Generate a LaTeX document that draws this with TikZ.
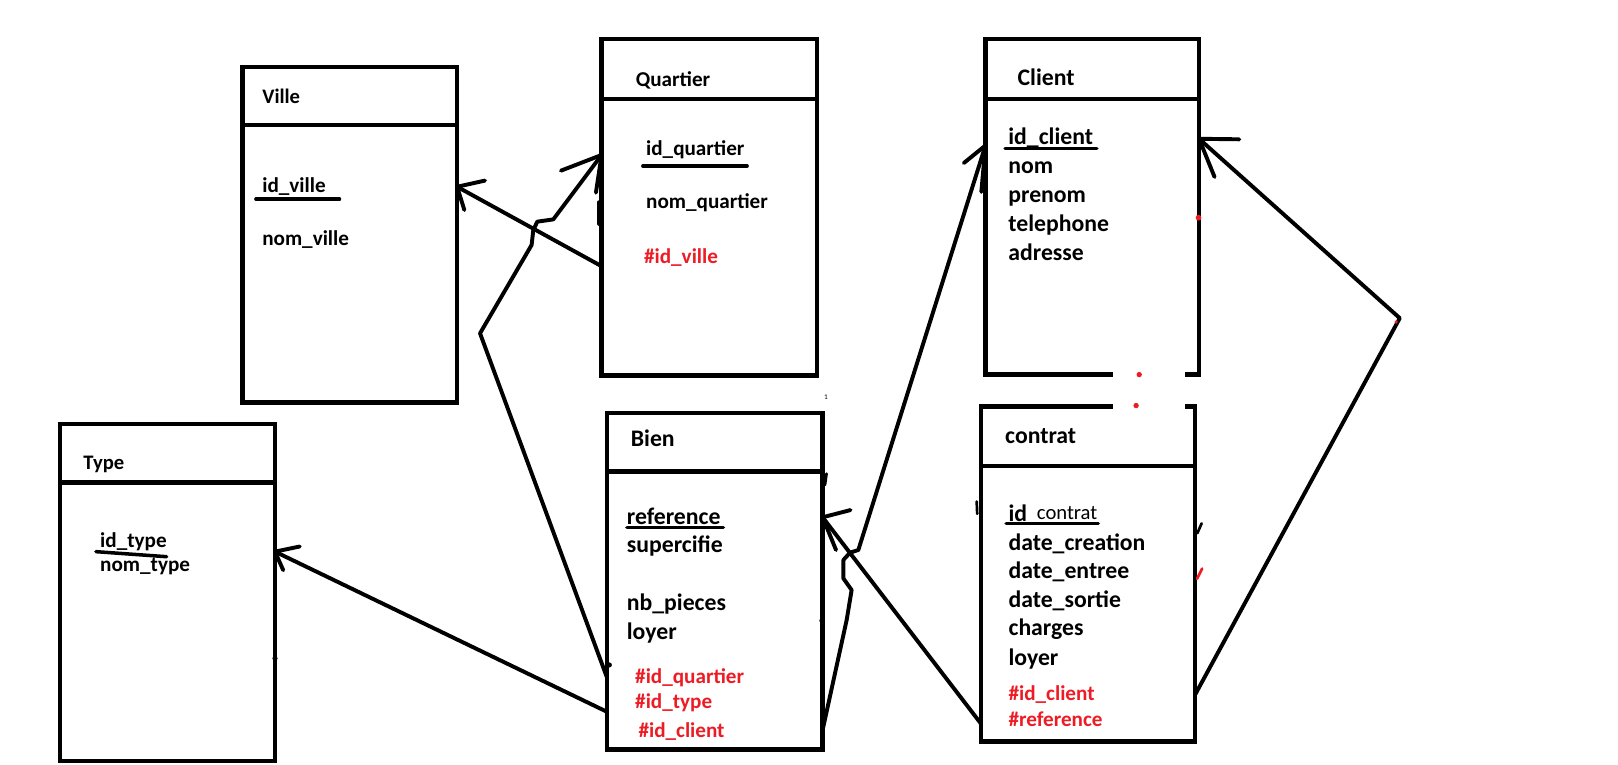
\documentclass[tikz,border=0pt]{standalone}
\usepackage{fontspec}
\setmainfont{Carlito}
\definecolor{pkred}{RGB}{237,28,36}
\begin{document}
\begin{tikzpicture}[x=1pt,y=-1pt,
  tbl/.style={draw, line width=4.2pt, inner sep=0pt, outer sep=0pt},
  sep/.style={line width=4.2pt},
  conn/.style={line width=3.8pt, line cap=round, line join=round},
  ul/.style={line width=3.4pt, line cap=round},
  txt/.style={anchor=base west, inner sep=0pt, font=\bfseries\fontsize{20.5}{20.5}\selectfont},
  big/.style={font=\bfseries\fontsize{23}{23}\selectfont},
  head/.style={font=\bfseries\fontsize{20}{20}\selectfont},
  fk/.style={text=pkred},
  speck/.style={fill, inner sep=0pt, minimum size=5pt, circle},
]
\useasboundingbox (0,0) rectangle (1568,741);

% ---------- tables ----------
\node[tbl, minimum width=208pt, minimum height=325pt] (ville) at (339,227.5) {};
\draw[sep] (ville.west |- 0,121) -- (ville.east |- 0,121);
\node[txt, head] (villeT) at (254,100) {Ville};
\node[txt] (villeA) at (254,187) {id\_ville};
\draw[ul] (248,193) -- (329,193);
\node[txt] (villeB) at (254,238) {nom\_ville};

\node[tbl, minimum width=209pt, minimum height=326pt] (quartier) at (687.5,201) {};
\draw[sep] (quartier.west |- 0,96) -- (quartier.east |- 0,96);
\node[txt] (quartierT) at (616,84) {Quartier};
\node[txt] (quartierA) at (626,151) {id\_quartier};
\draw[ul] (623,161) -- (724,161);
\node[txt] (quartierB) at (626,202) {nom\_quartier};
\node[txt, fk] (quartierC) at (624,255) {\#id\_ville};

\node[tbl, minimum width=207pt, minimum height=325pt] (client) at (1058.5,200.5) {};
\draw[sep] (client.west |- 0,96) -- (client.east |- 0,96);
\node[txt, big] (clientT) at (986,83) {Client};
\node[txt, big] (clientA) at (977,140) {id\_client};
\draw[ul] (974,144) -- (1063,144);
\node[txt, big] (clientB) at (977,168) {nom};
\node[txt, big] (clientC) at (977,196) {prenom};
\node[txt, big] (clientD) at (977,224) {telephone};
\node[txt, big] (clientE) at (977,252) {adresse};

\node[tbl, minimum width=208.5pt, minimum height=326.5pt] (type) at (162.25,574.2) {};
\draw[sep] (type.west |- 0,467.7) -- (type.east |- 0,467.7);
\node[txt, head] (typeT) at (80.7,455) {Type};
\node[txt] (typeA) at (96.9,530.7) {id\_type};
\draw[ul] (93,534.6) -- (161.5,539.5);
\node[txt] (typeB) at (96.9,554) {nom\_type};

\node[tbl, minimum width=209.2pt, minimum height=326.2pt] (bien) at (692.6,563.1) {};
\draw[sep] (bien.west |- 0,457) -- (bien.east |- 0,457);
\node[txt, big] (bienT) at (611.2,433) {Bien};
\node[txt, big] (bienA) at (607.3,508) {reference};
\draw[ul] (607.5,511) -- (701,511);
\node[txt, big] (bienB) at (607.3,535) {supercifie};
\node[txt, big] (bienC) at (607.3,592) {nb\_pieces};
\node[txt, big] (bienD) at (607.3,620) {loyer};
\node[txt, fk] (bienE) at (615.4,662) {\#id\_quartier};
\node[txt, fk] (bienF) at (615.4,687) {\#id\_type};
\node[txt, fk] (bienG) at (618.6,714.5) {\#id\_client};

\node[tbl, minimum width=207.6pt, minimum height=324.7pt] (contrat) at (1054.2,556.35) {};
\draw[sep] (contrat.west |- 0,451.6) -- (contrat.east |- 0,451.6);
\node[txt, big] (contratT) at (973.9,430) {contrat};
\node[txt, big] (contratA) at (977.2,505) {id};
\node[txt, font=\fontsize{20}{20}\selectfont] (contratA2) at (1004.7,503) {contrat};
\draw[ul] (975,507.5) -- (1064.3,507.5);
\node[txt, big] (contratB) at (977.2,533) {date\_creation};
\node[txt, big] (contratC) at (977.2,560.5) {date\_entree};
\node[txt, big] (contratD) at (977.2,588.5) {date\_sortie};
\node[txt, big] (contratE) at (977.2,615.5) {charges};
\node[txt, big] (contratF) at (977.2,644.5) {loyer};
\node[txt, fk] (contratG) at (977.2,678.5) {\#id\_client};
\node[txt, fk] (contratH) at (977.2,704.5) {\#reference};

% opening between Client and contrat
\fill[white] (1079,358) rectangle (1148,398);
\fill[pkred] (1104,363) circle (2.6);
\fill[pkred] (1101,393) circle (2.6);

% ---------- connectors ----------
% Quartier -> Ville
\coordinate (a1s) at (quartier.west |- 0,258);
\coordinate (a1t) at (ville.east |- 0,181);
\draw[conn] (a1s) -- (a1t);
\draw[conn] (a1t) ++(27,-6) -- (a1t) -- ++(7,22.5);

% Bien -> Quartier
\coordinate (a2s) at (bien.west |- 0,656);
\coordinate (a2t) at (quartier.west |- 0,150.2);
\draw[conn] (a2s) -- (465.2,323) -- (515.2,237.4) -- (516.8,222.9) -- (520.7,214.8) -- (536.2,212.6) -- (a2t);
\draw[conn] (a2t) ++(-39.4,15.2) -- (a2t) -- ++(-5.5,36.5);
\draw[conn] (580.5,196) -- (580.5,217);

% Bien -> Type
\coordinate (a3s) at (bien.west |- 0,689.7);
\coordinate (a3t) at (type.east |- 0,534.6);
\draw[conn] (a3s) -- (a3t);
\draw[conn] (a3t) ++(24,-5) -- (a3t) -- ++(8,18);

% Bien -> Client
\coordinate (a4s) at (bien.east |- 0,707.4);
\coordinate (a4t) at (client.west |- 0,141);
\draw[conn] (a4s) -- (820.5,600.8) -- (825.3,571.8) -- (817.3,560.5) -- (817.3,542.7) -- (823.7,535.6) -- (831.8,533) -- (a4t);
\draw[conn] (a4t) ++(-21,17) -- (a4t) -- ++(-4,45);

% contrat -> Bien
\coordinate (a5s) at (contrat.west |- 0,701);
\coordinate (a5t) at (bien.east |- 0,501.3);
\draw[conn] (a5s) -- (a5t);
\draw[conn] (a5t) ++(27,-7) -- (a5t) -- ++(13,31.7);

% contrat -> Client
\coordinate (a6s) at (contrat.east |- 0,673.5);
\coordinate (a6c) at (1356.5,308.3);
\coordinate (a6t) at (client.east |- 0,134.5);
\draw[conn] (a6s) -- (a6c) -- (a6t);
\draw[conn] (a6t) ++(39,0.5) -- (a6t) -- ++(15,37);

% ---------- stray pen marks ----------
\draw[conn] (1161.5,184) -- (1161.5,205);
\fill[pkred] (1161.5,211) circle (2.8);
\draw[conn, line width=2.6pt] (946.5,486) -- (947,498);
\draw[conn, line width=2.6pt] (1160.3,516.8) -- (1164.5,507.2);
\draw[conn, line width=2.6pt, pkred] (1160,561) -- (1165,551);
\draw[conn, line width=2.6pt] (801,459) -- (799.5,470);
\fill[pkred] (1353,312) circle (1.8);
\node[speck] (d1) at (266.5,638) {};
\node[speck] (d2) at (590.5,644.4) {};
\node[speck] (d3) at (796.5,601.5) {};
\node[inner sep=0pt, font=\fontsize{7}{7}\selectfont] (one) at (800.5,385) {1};
\end{tikzpicture}
\end{document}
